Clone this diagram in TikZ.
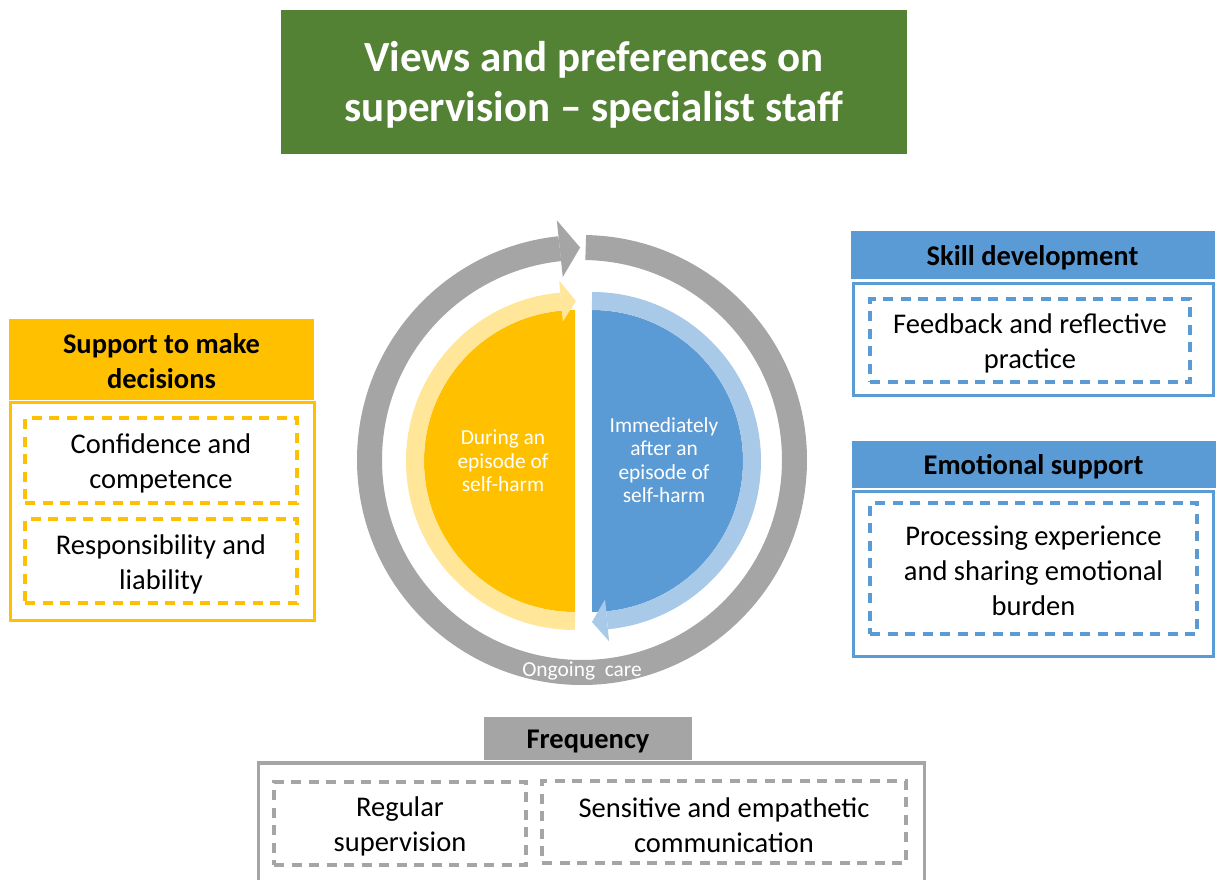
\documentclass[tikz,border=0pt]{standalone}
\usepackage{fontspec}
\setmainfont{Carlito}
\usetikzlibrary{calc}
\definecolor{titlegreen}{HTML}{548235}
\definecolor{myyellow}{HTML}{FFC000}
\definecolor{lightyellow}{HTML}{FFE699}
\definecolor{myblue}{HTML}{5B9BD5}
\definecolor{lightblue}{HTML}{A9C9E9}
\definecolor{mygray}{HTML}{A5A5A5}
\begin{document}
\begin{tikzpicture}[x=1pt,y=-1pt,
  bodytext/.style={font=\fontsize{28.5}{35}\selectfont, align=center, text=black, inner sep=0pt},
  headtext/.style={font=\fontsize{28.5}{35}\selectfont\bfseries, align=center, text=black, inner sep=0pt},
  circtext/.style={font=\fontsize{21.4}{23.5}\selectfont, align=center, text=white},
  headbox/.style={inner sep=0pt, minimum width=#1},
  outerbox/.style={draw=#1, line width=3.2pt, inner sep=0pt, fill=white},
  dashbox/.style={draw=#1, line width=3.6pt, dash pattern=on 10pt off 7.5pt, inner sep=0pt},
]
\useasboundingbox (0,0) rectangle (1221,880);
\fill[white] (0,0) rectangle (1221,880);

% Title
\node[fill=titlegreen, minimum width=626pt, minimum height=144pt, inner sep=0pt] (title) at (594,82) {};
\node[font=\fontsize{43}{50}\selectfont\bfseries, text=white, align=center, inner sep=0pt]
  (titletext) at ([yshift=-3pt]title.center) {Views and preferences on\\supervision -- specialist staff};

% Central cycle
\coordinate (C) at (582,460);
\coordinate (Y) at (575,461);
\coordinate (B) at (592,461);
\draw[mygray, line width=25pt] ($(C)+(-89:212.5)$) arc[start angle=-89, end angle=264, radius=212.5];
\fill[mygray] ($(C)+(264:184)$) -- ($(C)+(269.5:212.5)$) -- ($(C)+(264:241)$) -- cycle;

\fill[myyellow] ($(Y)+(270:151)$) arc[start angle=270, end angle=90, radius=151] -- cycle;
\fill[myblue] ($(B)+(-90:151)$) arc[start angle=-90, end angle=90, radius=151] -- cycle;

\draw[lightyellow, line width=18pt] ($(Y)+(90:160)$) arc[start angle=90, end angle=265, radius=160];
\fill[lightyellow] ($(Y)+(265:140)$) -- ($(Y)+(270.3:160)$) -- ($(Y)+(265:181)$) -- cycle;

\draw[lightblue, line width=18pt] ($(B)+(-90:160)$) arc[start angle=-90, end angle=84.6, radius=160];
\fill[lightblue] ($(B)+(84.6:139)$) -- ($(B)+(90:161)$) -- ($(B)+(84.6:181)$) -- cycle;

\node[circtext] (during) at (503,461) {During an\\episode of\\self-harm};
\node[circtext] (after) at (664,460) {Immediately\\after an\\episode of\\self-harm};
\node[circtext, anchor=base] (ongoing) at (582,676) {Ongoing\ \ care};

% Left panel
\node[fill=myyellow, headbox=305pt, minimum height=81pt] (supphead) at (161.5,359.5) {};
\node[headtext] (suppheadtext) at ([yshift=-2pt]supphead.center) {Support to make\\decisions};
\node[outerbox=myyellow, minimum width=304pt, minimum height=218pt] (suppbox) at (162.5,511.5) {};
\node[dashbox=myyellow, minimum width=272pt, minimum height=85pt] (conf) at (161,460.5) {};
\node[bodytext] (conftext) at ([yshift=-3pt]conf.center) {Confidence and\\competence};
\node[dashbox=myyellow, minimum width=272pt, minimum height=84pt] (resp) at (161,561) {};
\node[bodytext] (resptext) at ([yshift=-3pt]resp.center) {Responsibility and\\liability};

% Right panels
\node[fill=myblue, headbox=364pt, minimum height=48pt] (skillhead) at (1032.5,255) {};
\node[headtext] (skillheadtext) at ([yshift=-3pt]skillhead.center) {Skill development};
\node[outerbox=myblue, minimum width=360pt, minimum height=112pt] (skillbox) at (1033.5,339.5) {};
\node[dashbox=myblue, minimum width=320pt, minimum height=83pt] (feed) at (1030,340.5) {};
\node[bodytext] (feedtext) at ([yshift=-3pt]feed.center) {Feedback and reflective\\practice};

\node[fill=myblue, headbox=364pt, minimum height=47pt] (emohead) at (1033.5,464.5) {};
\node[headtext] (emoheadtext) at ([yshift=-2pt]emohead.center) {Emotional support};
\node[outerbox=myblue, minimum width=360pt, minimum height=165pt] (emobox) at (1033.5,574) {};
\node[dashbox=myblue, minimum width=327pt, minimum height=131pt] (proc) at (1033.5,568.5) {};
\node[bodytext] (proctext) at ([yshift=-2pt]proc.center) {Processing experience\\and sharing emotional\\burden};

% Bottom panel
\node[fill=mygray, headbox=208pt, minimum height=43pt] (freqhead) at (588,738.5) {};
\node[headtext] (freqheadtext) at ([yshift=-3pt]freqhead.center) {Frequency};
\node[outerbox=mygray, minimum width=666pt, minimum height=138pt] (freqbox) at (591.5,832) {};
\node[dashbox=mygray, minimum width=252pt, minimum height=83pt] (reg) at (400,823.5) {};
\node[bodytext] (regtext) at ([yshift=-3pt]reg.center) {Regular\\supervision};
\node[dashbox=mygray, minimum width=364pt, minimum height=82pt] (sens) at (724,822) {};
\node[bodytext] (senstext) at ([yshift=-3pt]sens.center) {Sensitive and empathetic\\communication};
\end{tikzpicture}
\end{document}
